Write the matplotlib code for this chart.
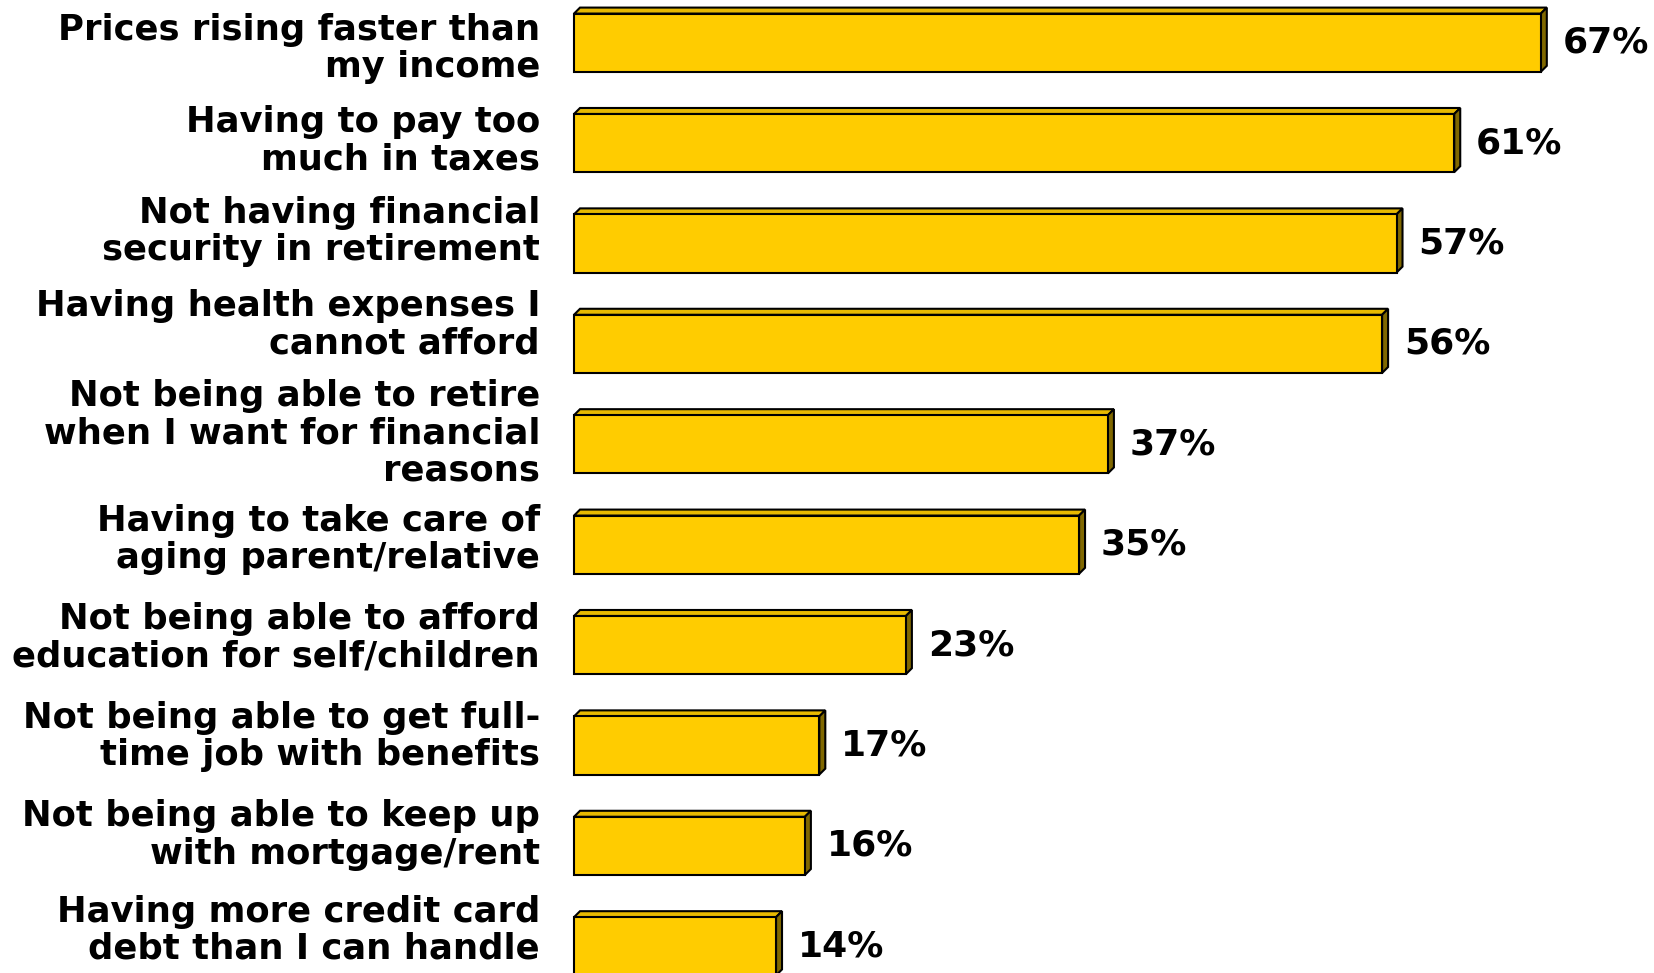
import matplotlib
matplotlib.use("Agg")
import matplotlib.pyplot as plt
from matplotlib.patches import Rectangle, Polygon

categories = [
    "Prices rising faster than\nmy income",
    "Having to pay too\nmuch in taxes",
    "Not having financial\nsecurity in retirement",
    "Having health expenses I\ncannot afford",
    "Not being able to retire\nwhen I want for financial\nreasons",
    "Having to take care of\naging parent/relative",
    "Not being able to afford\neducation for self/children",
    "Not being able to get full-\ntime job with benefits",
    "Not being able to keep up\nwith mortgage/rent",
    "Having more credit card\ndebt than I can handle",
]
values = [67, 61, 57, 56, 37, 35, 23, 17, 16, 14]
value_labels = ["67%", "61%", "57%", "56%", "37%", "35%", "23%", "17%", "16%", "14%"]

# layout (pixels)
label_nudge = [6, -2, -12, -19, -11, -5, -7, -9, -11, -16]

W, H = 1654, 973
fig = plt.figure(figsize=(W / 100, H / 100), dpi=100)
fig.patch.set_facecolor("white")
left_px = 574
px_per_pct = 14.43
pitch = 100.4
first_center = 42.7
ax = fig.add_axes([left_px / W, 0, (W - left_px) / W, 1])
ax.set_xlim(0, (W - left_px) / px_per_pct)
ax.set_ylim((H - first_center) / pitch, -first_center / pitch)
ax.axis("off")

bh = 0.58
dx = 6 / px_per_pct
dy = 6 / pitch
front = "#FFCC00"
topc = "#E8B900"
side = "#806800"
ec = "black"
lw = 1.5

for i, v in enumerate(values):
    top = i - bh / 2
    bot = i + bh / 2
    ax.add_patch(Polygon([(0, top), (v, top), (v + dx, top - dy), (dx, top - dy)],
                         closed=True, facecolor=topc, edgecolor=ec, linewidth=lw,
                         joinstyle="miter", clip_on=False))
    ax.add_patch(Polygon([(v, top), (v + dx, top - dy), (v + dx, bot - dy), (v, bot)],
                         closed=True, facecolor=side, edgecolor=ec, linewidth=lw,
                         joinstyle="miter", clip_on=False))
    ax.add_patch(Rectangle((0, top), v, bh, facecolor=front, edgecolor=ec, linewidth=lw,
                           clip_on=False))
    ax.annotate(value_labels[i], xy=(v, i), xytext=(22, 0), textcoords="offset pixels",
                ha="left", va="center", fontsize=26, fontweight="bold",
                family="DejaVu Sans", annotation_clip=False)
    ax.annotate(categories[i], xy=(0, i), xytext=(-34, -label_nudge[i]), textcoords="offset pixels",
                ha="right", va="center", fontsize=25.5, fontweight="bold",
                family="DejaVu Sans", multialignment="right", linespacing=1.12,
                annotation_clip=False)

fig.savefig("out.png", dpi=100)
